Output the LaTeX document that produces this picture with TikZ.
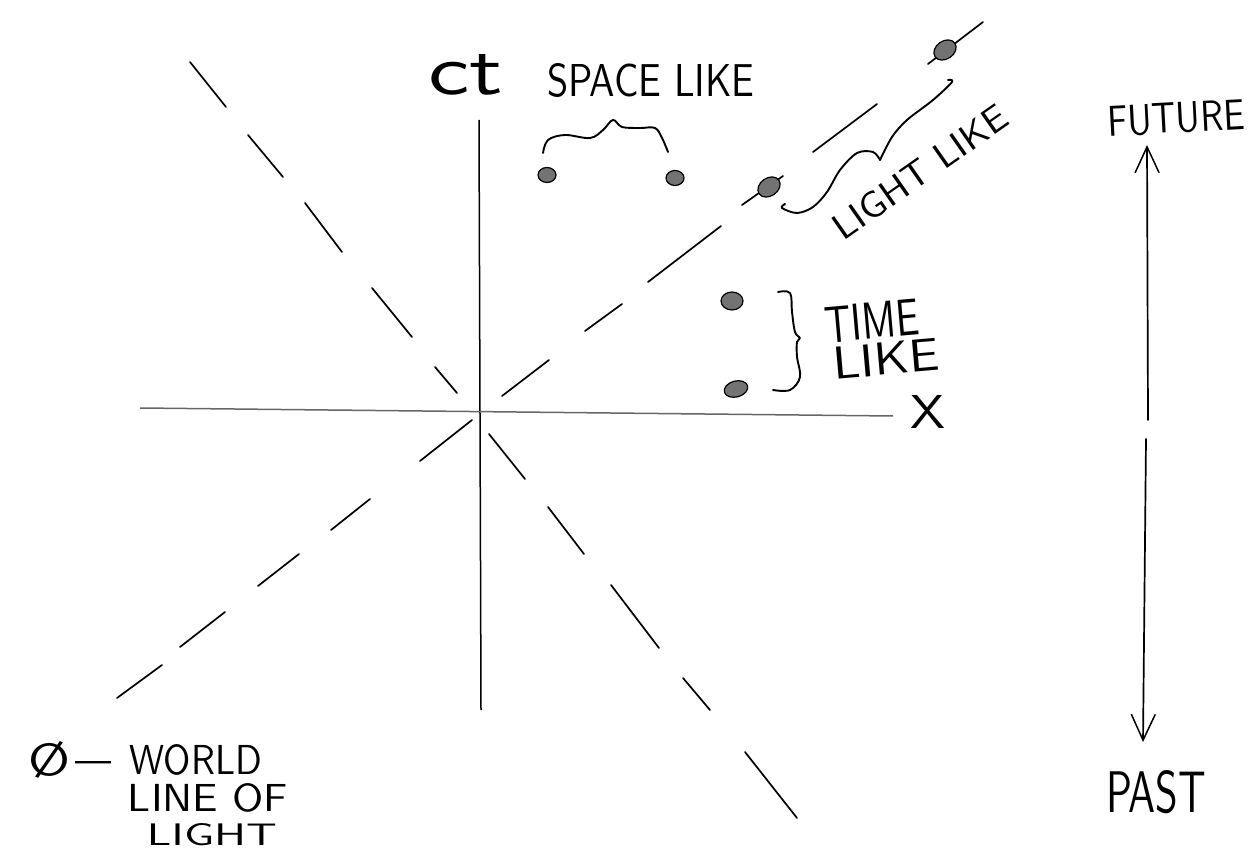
\documentclass[tikz,border=0pt]{standalone}
\usetikzlibrary{arrows.meta}
\newcommand{\fitto}[3]{\resizebox{#1pt}{#2pt}{#3}}
\begin{document}
\begin{tikzpicture}[x=1pt,y=-1pt,
  ink/.style={line width=1.7pt, line cap=round, line join=round},
  axis/.style={line width=1.5pt},
  lbl/.style={inner sep=0pt, outer sep=0pt, font=\sffamily},
  blob/.style={draw=black, line width=1.2pt, fill=black!55},
  barb/.style={ink, -{Straight Barb[length=26pt,width=24pt,line width=1.5pt]}}]
\useasboundingbox (0,0) rectangle (1258,866);

% axes
\coordinate (ctTop) at (479,120);
\coordinate (ctBot) at (481,710);
\draw[axis] (ctTop) -- (ctBot);
\coordinate (xL) at (140,408);
\coordinate (xR) at (893,416);
\draw[axis, black!60] (xL) -- (xR);
\node[lbl] (ctlabel) at (466,75) {\fitto{75}{40}{ct}};
\node[lbl] (xlabel) at (928,412) {\fitto{35}{33}{X}};

% light cone, falling diagonal (hand-drawn dashes)
\foreach \a/\b/\c/\d in {190/62/226/107, 248/135/283/177, 305/203/342/252,
  372/288/412/337, 435/367/457/393, 489/434/525/479, 548/507/584/554,
  611/585/659/648, 683/678/710/710, 745/752/797/818}
  \draw[ink] (\a,\b) -- (\c,\d);

% light cone, rising diagonal
\foreach \a/\b/\c/\d in {117/698/162/665, 180/647/225/612, 258/586/299/554,
  331/530/370/499, 420/461/472/420, 502/396/549/360, 585/331/622/304,
  648/282/721/226, 742/205/783/176, 813/152/877/104, 928/64/983/22}
  \draw[ink] (\a,\b) -- (\c,\d);

% events on the light ray
\draw[blob, rotate around={35:(769,187)}] (769,187) ellipse [x radius=12, y radius=9];
\draw[blob, rotate around={35:(945,50)}] (945,50) ellipse [x radius=12, y radius=9];

% light-like bracket
\draw[ink, line width=1.9pt] plot[smooth, tension=0.55] coordinates {(785,204) (782,208) (797,213) (813,207)
  (827,192) (840,170) (857,153) (873,152) (880,160)};
\draw[ink, line width=1.9pt] plot[smooth, tension=0.55] coordinates {(880,160) (892,137) (907,120)
  (933,100) (952,82) (948,80)};
\node[lbl, rotate=35] (lightlike) at (920,172) {\fitto{205}{26}{LIGHT LIKE}};

% space-like pair
\draw[blob] (547,175) ellipse [x radius=9, y radius=7.5];
\draw[blob] (675,178) ellipse [x radius=9, y radius=7.5];
\draw[ink, line width=1.9pt] plot[smooth, tension=0.6] coordinates {(543,153) (548,140) (565,135)
  (590,138) (603,130) (613,120) (622,127) (640,128) (655,128) (662,138) (668,152)};
\node[lbl] (spacelike) at (651,81) {\fitto{207}{33}{SPACE LIKE}};

% time-like pair
\draw[blob] (732,301) ellipse [x radius=11, y radius=9];
\draw[blob, rotate around={15:(736,389)}] (736,389) ellipse [x radius=12, y radius=8];
\draw[ink, line width=1.9pt] plot[smooth, tension=0.6] coordinates {(778,292) (790,293) (792,312)
  (795,332) (800,338) (797,342) (797,357) (800,377) (790,390) (773,390)};
\node[lbl, rotate=5] (timeword) at (872,321) {\fitto{95}{36}{TIME}};
\node[lbl, rotate=5] (likeword) at (886,359) {\fitto{107}{32}{LIKE}};

% direction of time
\node[lbl, rotate=3] (future) at (1176,118) {\fitto{137}{30}{FUTURE}};
\node[lbl] (past) at (1156,792) {\fitto{100}{42}{PAST}};
\coordinate (upTail) at (1148,420);
\coordinate (upTip) at (1147,145);
\coordinate (dnTail) at (1146,439);
\coordinate (dnTip) at (1143,742);
\draw[barb] (upTail) -- (upTip);
\draw[barb] (dnTail) -- (dnTip);

% legend
\node[lbl] (phi) at (50,760) {\fitto{42}{34}{Ø}};
\node[lbl] (dash) at (93,767) {\fitto{36}{12}{—}};
\node[lbl] (world) at (196,760) {\fitto{132}{30}{WORLD}};
\node[lbl] (lineof) at (208,798) {\fitto{160}{28}{LINE OF}};
\node[lbl] (lightword) at (212,835) {\fitto{130}{22}{LIGHT}};
\end{tikzpicture}
\end{document}
